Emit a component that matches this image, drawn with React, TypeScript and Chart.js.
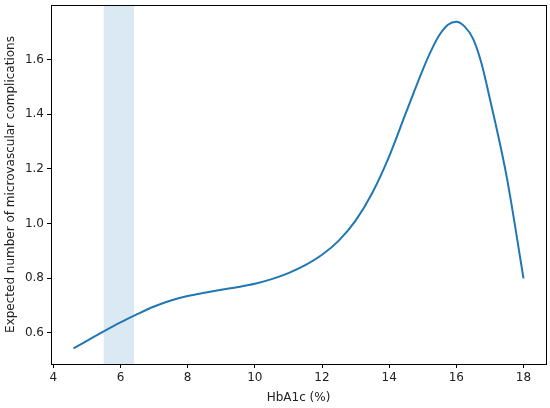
import React, { useEffect, useRef } from "react";
import { Chart, registerables } from "chart.js";

Chart.register(...registerables);

const hba1c: number[] = [4.6, 5.0, 5.5, 6.0, 6.5, 7.0, 7.5, 8.0, 8.5, 9.0, 9.5, 10.0, 10.5, 11.0, 11.5, 12.0, 12.5, 13.0, 13.5, 14.0, 14.5, 15.0, 15.25, 15.5, 15.75, 16.0, 16.25, 16.5, 16.75, 17.0, 17.5, 18.0];
const complications: number[] = [0.543, 0.570, 0.605, 0.638, 0.668, 0.696, 0.718, 0.734, 0.746, 0.757, 0.767, 0.779, 0.796, 0.818, 0.847, 0.885, 0.937, 1.010, 1.112, 1.245, 1.405, 1.562, 1.632, 1.690, 1.727, 1.738, 1.720, 1.675, 1.585, 1.455, 1.170, 0.799];
const band: number[] = [5.5, 6.4];
const xTicks: number[] = [4, 6, 8, 10, 12, 14, 16, 18];
const yTicks: number[] = [0.6, 0.8, 1.0, 1.2, 1.4, 1.6];
const xLabel = "HbA1c (%)";
const yLabel = "Expected number of microvascular complications";

const FONT = "'DejaVu Sans', sans-serif";

const bandPlugin = {
  id: "bandPlugin",
  beforeDatasetsDraw(chart: any) {
    const { ctx, chartArea, scales } = chart;
    const x0 = scales.x.getPixelForValue(band[0]);
    const x1 = scales.x.getPixelForValue(band[1]);
    ctx.save();
    ctx.fillStyle = "rgba(31,119,180,0.16)";
    ctx.fillRect(x0, chartArea.top, x1 - x0, chartArea.bottom - chartArea.top);
    ctx.restore();
  },
  afterDraw(chart: any) {
    const { ctx, chartArea } = chart;
    ctx.save();
    ctx.strokeStyle = "#000";
    ctx.lineWidth = 1;
    ctx.strokeRect(
      Math.round(chartArea.left) + 0.5,
      Math.round(chartArea.top) + 0.5,
      Math.round(chartArea.right - chartArea.left),
      Math.round(chartArea.bottom - chartArea.top)
    );
    ctx.restore();
  },
};

export default function App() {
  const ref = useRef<HTMLCanvasElement | null>(null);
  useEffect(() => {
    if (!ref.current) return;
    const chart = new Chart(ref.current, {
      type: "line",
      data: {
        datasets: [
          {
            data: hba1c.map((x, i) => ({ x, y: complications[i] })),
            borderColor: "#1f77b4",
            borderWidth: 2,
            pointRadius: 0,
            cubicInterpolationMode: "monotone",
            fill: false,
          },
        ],
      },
      options: {
        animation: false,
        responsive: true,
        maintainAspectRatio: false,
        layout: { padding: { top: 5, right: 4, left: 0, bottom: 0 } },
        plugins: { legend: { display: false }, tooltip: { enabled: false } },
        scales: {
          x: {
            type: "linear",
            min: 3.93,
            max: 18.67,
            afterFit: (s: any) => { s.height = 44; s.paddingLeft = 0; s.paddingRight = 0; },
            afterBuildTicks: (s: any) => { s.ticks = xTicks.map((v) => ({ value: v })); },
            grid: { display: true, drawOnChartArea: false, drawTicks: true, tickLength: 4, color: "#000", tickWidth: 1 },
            border: { display: false },
            ticks: { color: "#222", font: { family: FONT, size: 12 }, padding: 3, maxRotation: 0, callback: (v: any) => String(v) },
            title: { display: true, text: xLabel, color: "#222", font: { family: FONT, size: 12 }, padding: { top: 4, bottom: 3 } },
          },
          y: {
            type: "linear",
            min: 0.4855,
            max: 1.799,
            afterFit: (s: any) => { s.width = 51; s.paddingTop = 0; s.paddingBottom = 0; },
            afterBuildTicks: (s: any) => { s.ticks = yTicks.map((v) => ({ value: v })); },
            grid: { display: true, drawOnChartArea: false, drawTicks: true, tickLength: 4, color: "#000", tickWidth: 1 },
            border: { display: false },
            ticks: { color: "#222", font: { family: FONT, size: 12 }, padding: 3, callback: (v: any) => Number(v).toFixed(1) },
            title: { display: true, text: yLabel, color: "#222", font: { family: FONT, size: 12 }, padding: { top: 4, bottom: 4 } },
          },
        },
      },
      plugins: [bandPlugin],
    });
    return () => chart.destroy();
  }, []);
  return (
    <div style={{ position: "fixed", left: 0, top: 0, width: 550, height: 408, background: "#fff" }}>
      <canvas ref={ref} />
    </div>
  );
}
